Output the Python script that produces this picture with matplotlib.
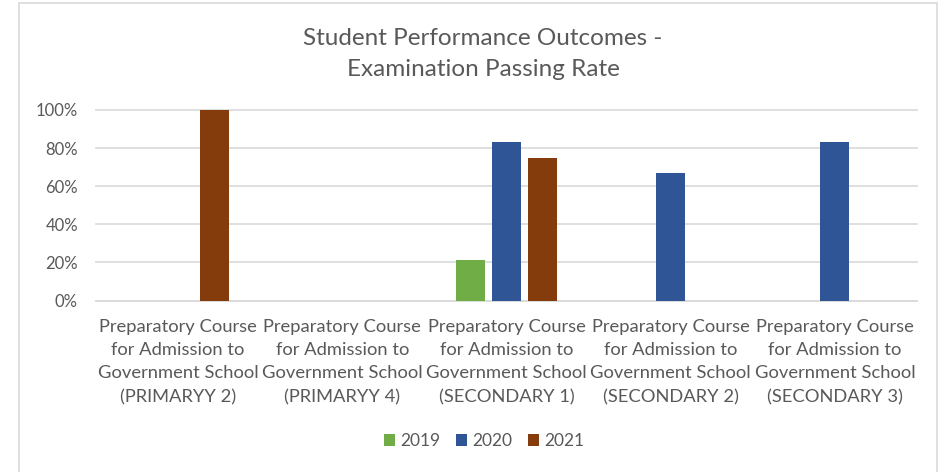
import matplotlib.pyplot as plt
from matplotlib.patches import Rectangle
from matplotlib.ticker import PercentFormatter
import numpy as np

plt.rcParams['font.family'] = ['Lato', 'DejaVu Sans']

categories = [
    'Preparatory Course\nfor Admission to\nGovernment School\n(PRIMARYY 2)',
    'Preparatory Course\nfor Admission to\nGovernment School\n(PRIMARYY 4)',
    'Preparatory Course\nfor Admission to\nGovernment School\n(SECONDARY 1)',
    'Preparatory Course\nfor Admission to\nGovernment School\n(SECONDARY 2)',
    'Preparatory Course\nfor Admission to\nGovernment School\n(SECONDARY 3)',
]
years = ['2019', '2020', '2021']
rate_2019 = [np.nan, np.nan, 0.21, np.nan, np.nan]
rate_2020 = [np.nan, np.nan, 0.83, 0.67, 0.83]
rate_2021 = [1.00, np.nan, 0.75, np.nan, np.nan]
colors = ['#70AD47', '#2F5597', '#843C0C']

text_color = '#595959'
grid_color = '#D9D9D9'

fig = plt.figure(figsize=(9.43, 4.72), dpi=100)
# chart frame
fig.patches.append(Rectangle((19 / 943, -0.01), (937 - 19) / 943, 1 - 3 / 472 + 0.01,
                             transform=fig.transFigure, fill=False,
                             edgecolor=grid_color, linewidth=1.2))

ax = fig.add_axes([96 / 943, 1 - 300.5 / 472, (917 - 96) / 943, (300.5 - 110) / 472])

x = np.arange(len(categories))
width = 0.177
step = 0.221
for j, (vals, year) in enumerate(zip([rate_2019, rate_2020, rate_2021], years)):
    ax.bar(x + (j - 1) * step, vals, width, color=colors[j], label=year, zorder=3)

ax.set_xlim(-0.5, len(categories) - 0.5)
ax.set_ylim(0, 1)
ax.set_yticks(np.arange(0, 1.01, 0.2))
ax.yaxis.set_major_formatter(PercentFormatter(1.0, decimals=0))
ax.grid(axis='y', color=grid_color, linewidth=1.2, zorder=0)
for gl in ax.get_ygridlines():
    gl.set_clip_on(False)
for s in ['top', 'right', 'left']:
    ax.spines[s].set_visible(False)
ax.spines['bottom'].set_color(grid_color)
ax.spines['bottom'].set_linewidth(1.2)
ax.tick_params(axis='y', length=0, colors=text_color, labelsize=12, pad=13)
ax.tick_params(axis='x', length=0, colors=text_color, labelsize=13.2, pad=13)
ax.set_xticks(x)
ax.set_xticklabels(categories, linespacing=1.57)

fig.text(483 / 943, 1 - 54 / 472, 'Student Performance Outcomes -\nExamination Passing Rate',
         ha='center', va='center', fontsize=17.5, color=text_color, linespacing=1.58)

fig.legend(loc='center', bbox_to_anchor=(484 / 943, 1 - 441 / 472), ncol=3, frameon=False,
           fontsize=12.5, labelcolor=text_color, handlelength=0.65, handleheight=0.65,
           handletextpad=0.3, columnspacing=0.9)

fig.savefig('out.png', dpi=100, facecolor='white')
